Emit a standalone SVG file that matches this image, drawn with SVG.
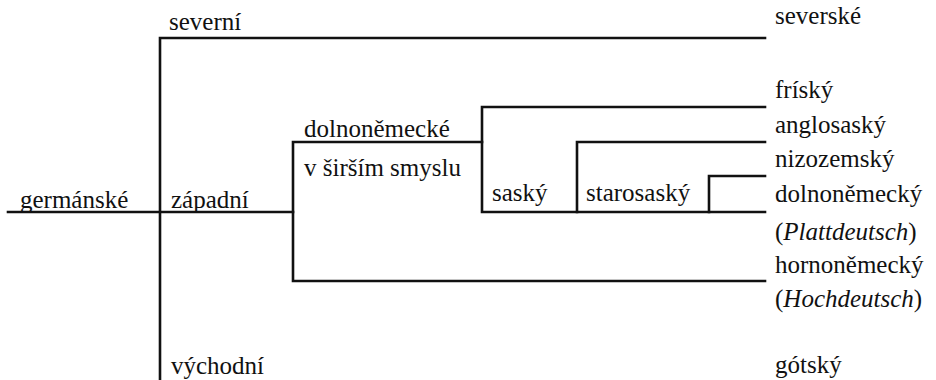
<svg xmlns="http://www.w3.org/2000/svg" width="936" height="380" viewBox="0 0 936 380">
<style>
.t text{font-size:25px;fill:#111}
.i{font-style:italic}
.c{stroke:#111;stroke-width:2.6;fill:none;stroke-linecap:square;stroke-linejoin:miter}
</style>
<rect width="936" height="380" fill="#fff"/>
<g id="connectors">
<path class="c" d="M8 212H293"/>
<path class="c" d="M160 380V38H765"/>
<path class="c" d="M765 281H293V142H482"/>
<path class="c" d="M765 107H482V212H765"/>
<path class="c" d="M765 142H577V212"/>
<path class="c" d="M765 176H709V212"/>
</g>
<g class="t" font-family="Liberation Serif, Times New Roman, Tinos, DejaVu Serif, serif">
<g id="germanske"><text x="20" y="208">germánské</text></g>
<g id="severni"><text x="169" y="30">severní</text></g>
<g id="zapadni"><text x="171" y="208">západní</text></g>
<g id="vychodni"><text x="171" y="374">východní</text></g>
<g id="dolnonemecke"><text x="304" y="137">dolnoněmecké</text><text x="304" y="176">v širším smyslu</text></g>
<g id="sasky"><text x="492" y="201">saský</text></g>
<g id="starosasky"><text x="586" y="201">starosaský</text></g>
<g id="severske"><text x="775" y="24">severské</text></g>
<g id="frisky"><text x="775" y="98">fríský</text></g>
<g id="anglosasky"><text x="775" y="133">anglosaský</text></g>
<g id="nizozemsky"><text x="775" y="167">nizozemský</text></g>
<g id="dolnonemecky"><text x="775" y="202">dolnoněmecký</text><text x="775" y="240">(<tspan class="i">Plattdeutsch</tspan>)</text></g>
<g id="hornonemecky"><text x="775" y="273">hornoněmecký</text><text x="775" y="307">(<tspan class="i">Hochdeutsch</tspan>)</text></g>
<g id="gotsky"><text x="775" y="373">gótský</text></g>
</g>
</svg>
